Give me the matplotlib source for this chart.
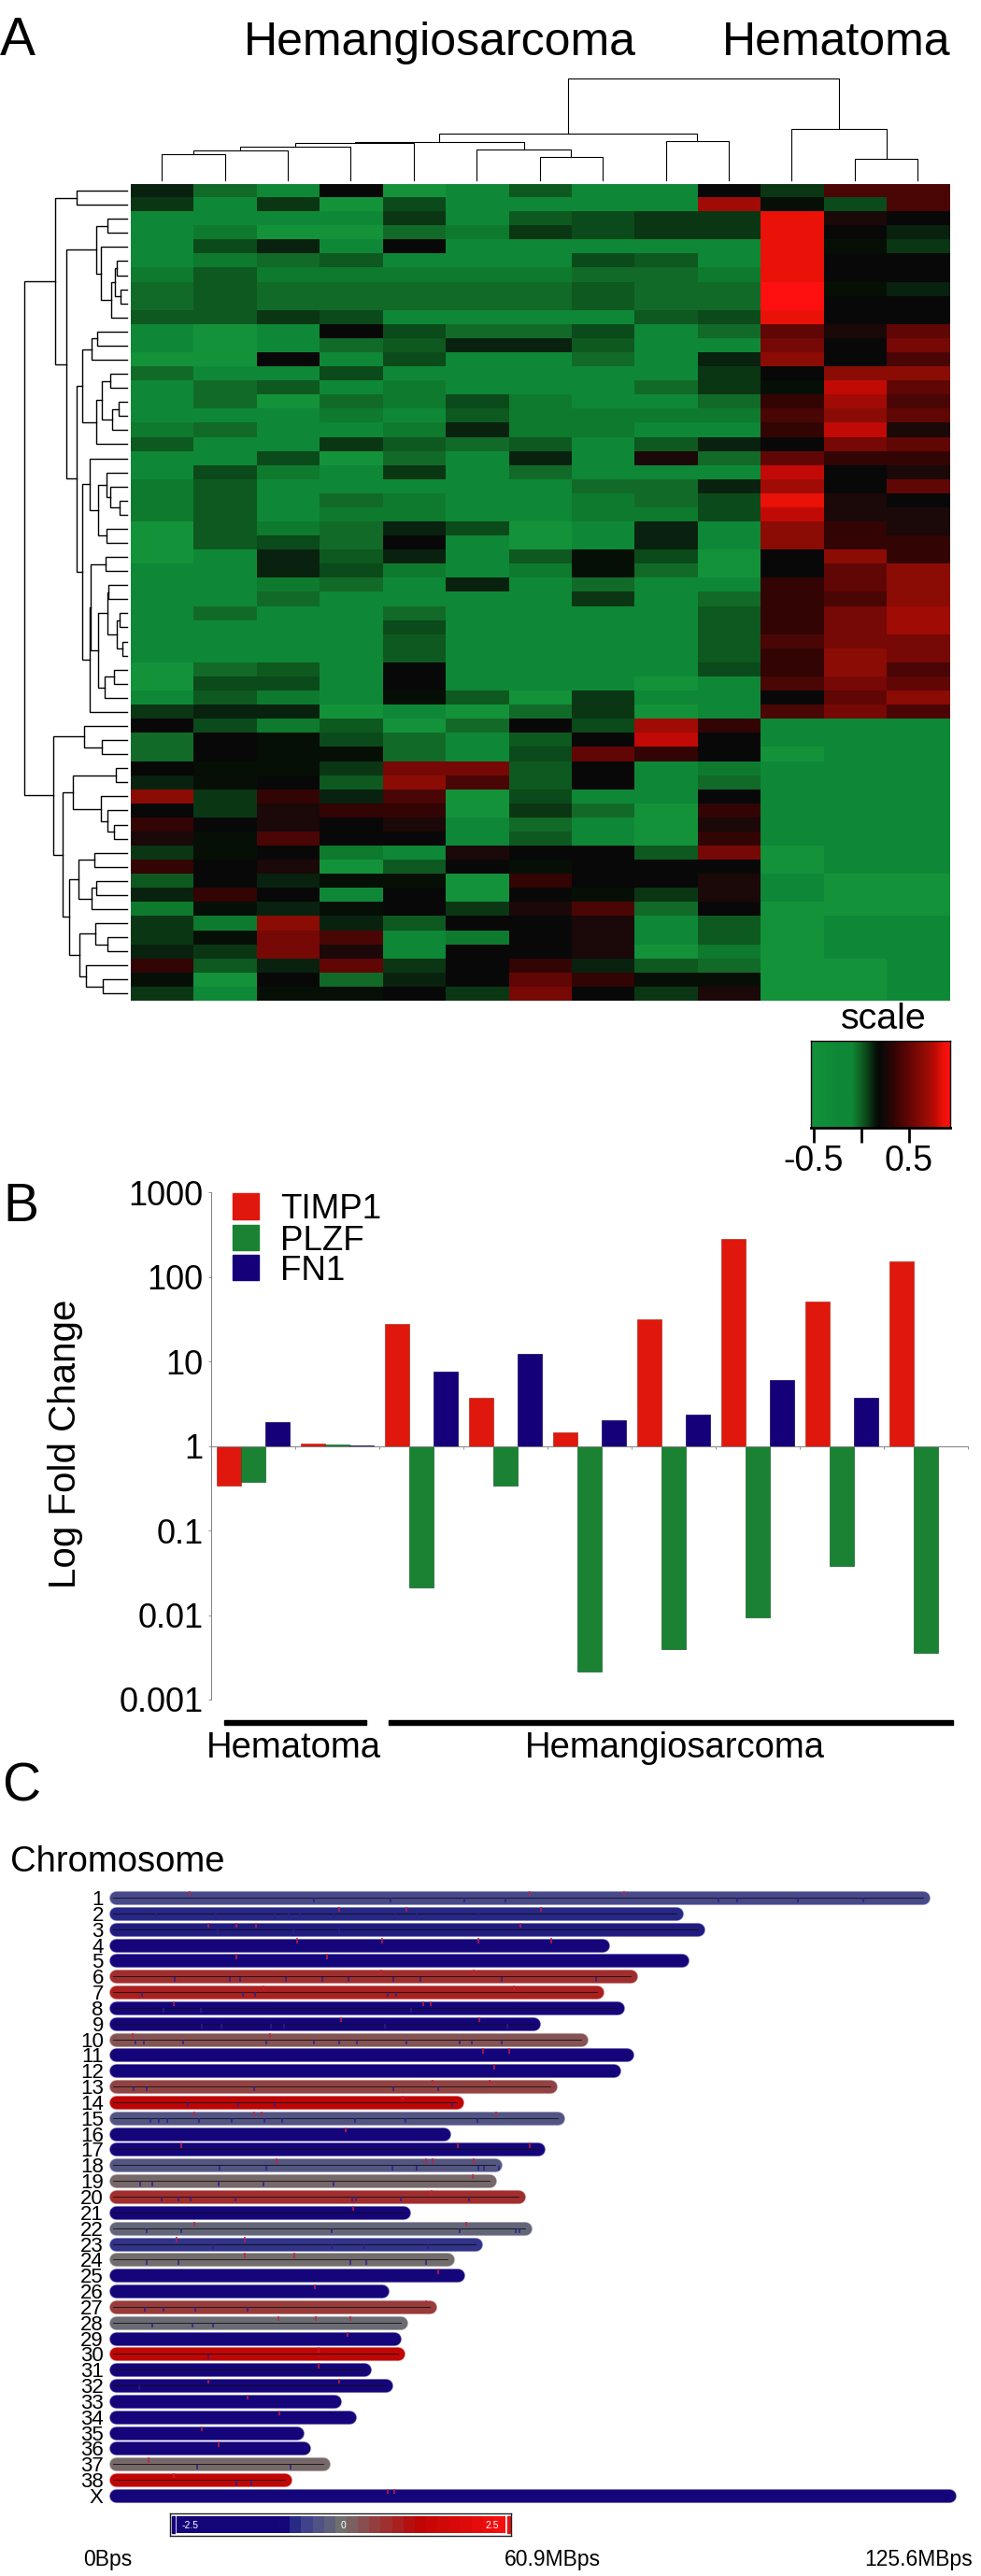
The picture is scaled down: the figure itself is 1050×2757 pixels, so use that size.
import numpy as np
import matplotlib
matplotlib.use("Agg")
import matplotlib.pyplot as plt
from matplotlib.colors import LinearSegmentedColormap
from matplotlib.patches import Rectangle

plt.rcParams['font.family'] = ['Liberation Sans', 'DejaVu Sans']

W, H = 1050, 2757

# ---------- panel A data: expression level per gene (row) and sample (column), -9 green .. 10 red
heat_rows = [
 [-2,-6,-8,0,-9,-8,-5,-8,-8,0,-3,3,3],
 [-3,-8,-3,-9,-4,-8,-8,-8,-8,7,-1,-4,3],
 [-8,-8,-8,-8,-3,-8,-5,-4,-3,-3,9,1,0],
 [-8,-7,-9,-9,-6,-7,-3,-4,-3,-3,9,0,-2],
 [-8,-4,-2,-8,0,-8,-8,-8,-8,-8,9,-1,-3],
 [-8,-7,-6,-5,-8,-8,-8,-4,-5,-8,9,0,0],
 [-7,-5,-7,-7,-7,-7,-7,-6,-6,-7,9,0,0],
 [-6,-5,-6,-6,-6,-6,-6,-5,-6,-6,10,-1,-2],
 [-6,-5,-6,-6,-6,-6,-6,-5,-6,-6,10,0,0],
 [-5,-5,-3,-4,-8,-8,-8,-8,-5,-4,9,0,0],
 [-8,-9,-8,0,-4,-6,-6,-4,-8,-6,4,1,4],
 [-8,-9,-8,-6,-5,-2,-2,-5,-8,-8,5,0,5],
 [-9,-9,0,-8,-4,-8,-8,-6,-8,-2,6,0,3],
 [-6,-8,-8,-4,-8,-8,-8,-8,-8,-3,0,6,6],
 [-8,-6,-5,-8,-7,-8,-8,-8,-6,-3,-1,8,4],
 [-8,-6,-9,-6,-7,-4,-7,-8,-8,-6,2,7,3],
 [-8,-8,-8,-7,-8,-5,-7,-7,-7,-7,3,6,4],
 [-7,-6,-8,-8,-7,-2,-7,-7,-8,-8,2,8,1],
 [-5,-8,-8,-3,-5,-6,-5,-8,-5,-2,0,5,4],
 [-8,-8,-4,-9,-6,-8,-2,-8,1,-6,4,2,2],
 [-8,-4,-7,-8,-3,-8,-6,-8,-8,-8,8,0,1],
 [-7,-5,-8,-8,-8,-8,-8,-6,-6,-2,7,0,4],
 [-7,-5,-8,-6,-7,-8,-8,-7,-6,-4,9,1,0],
 [-7,-5,-8,-7,-7,-8,-8,-7,-7,-4,8,1,1],
 [-9,-5,-7,-6,-2,-4,-9,-8,-2,-8,6,2,1],
 [-9,-5,-4,-6,0,-8,-9,-8,-2,-8,6,2,2],
 [-9,-8,-2,-5,-2,-8,-5,-1,-4,-9,0,6,2],
 [-8,-8,-2,-4,-7,-8,-7,-1,-6,-9,0,4,6],
 [-8,-8,-7,-6,-8,-2,-8,-6,-8,-8,2,4,6],
 [-8,-8,-6,-8,-8,-8,-8,-3,-8,-6,2,3,6],
 [-8,-6,-8,-8,-6,-8,-8,-8,-8,-5,2,5,7],
 [-8,-8,-8,-8,-4,-8,-8,-8,-8,-5,2,5,7],
 [-8,-8,-8,-8,-5,-8,-8,-8,-8,-5,3,5,5],
 [-8,-8,-8,-8,-5,-8,-8,-8,-8,-5,2,6,5],
 [-9,-6,-5,-8,0,-8,-8,-8,-8,-4,2,6,3],
 [-9,-4,-4,-8,0,-8,-8,-8,-9,-8,3,5,4],
 [-8,-5,-7,-8,-1,-5,-9,-3,-8,-8,0,4,6],
 [-3,-2,-2,-9,-8,-9,-6,-3,-9,-8,3,5,3],
 [0,-4,-7,-5,-9,-6,0,-4,7,2,-8,-8,-8],
 [-6,0,-1,-4,-6,-8,-5,0,8,0,-8,-8,-8],
 [-6,0,-1,-1,-6,-8,-4,4,2,0,-9,-8,-8],
 [0,-1,-1,-3,5,5,-5,0,-8,-7,-8,-8,-8],
 [-2,-1,0,-5,6,3,-5,0,-8,-6,-8,-8,-8],
 [6,-3,2,-2,3,-9,-4,-8,-8,0,-8,-8,-8],
 [0,-3,1,2,2,-9,-3,-6,-9,2,-8,-8,-8],
 [2,0,1,0,1,-8,-6,-8,-9,1,-8,-8,-8],
 [1,-1,3,0,0,-8,-5,-8,-9,2,-8,-8,-8],
 [-3,-1,0,-7,-8,1,0,0,-5,5,-9,-8,-8],
 [2,0,1,-9,-5,0,-1,0,0,0,-9,-8,-8],
 [-5,0,-2,-1,-1,-9,2,0,0,1,-8,-9,-9],
 [-2,2,0,-8,0,-9,0,-1,-3,1,-8,-9,-9],
 [-7,-1,-2,-1,0,-3,1,3,-6,0,-9,-9,-9],
 [-3,-7,6,-2,-5,0,0,1,-8,-5,-9,-8,-8],
 [-3,-1,5,3,-8,-7,0,1,-8,-5,-9,-8,-8],
 [-2,-3,5,1,-8,0,0,1,-9,-7,-9,-8,-8],
 [2,-5,-2,4,-3,0,2,-2,-5,-6,-9,-9,-8],
 [-1,-9,0,-6,-2,0,4,2,-1,-1,-9,-9,-8],
 [-3,-8,-1,-1,0,-3,5,0,-3,1,-9,-9,-8],
]

# dendrograms: (merge height, left, right); integers are leaf indices
col_tree = (109, (49.3, (40.8, (39.8, (35.3, (31.8, (27.9, 0, 1), 2), 3), 4),
                         (32.8, 5, (24.4, 6, 7))), (41.8, 8, 9)),
            (54.7, 10, (22.9, 11, 12)))
row_block1 = (32.7, (21, 2, 3), (27.7, 4, (16.7, (13.3, (11.3, 5, 6), (6.7, 7, 8)), 9)))
row_block2 = (48, (38.3, (32, 10, 11), 12),
              (32.7, (27.3, (18, 13, 14), (16.3, (9.3, 15, 16), 17)), 18))
row_block3 = (40, 19, (30.7, (22.3, 20, (18, 21, (8.3, 22, 23))), (22, 24, 25)))
row_block4 = (40, (39, (22.7, 26, 27),
                   (30.7, (21, (20.3, 28, 29), (11.3, (7.7, 30, 31), (4.7, 32, 33))),
                    (24.3, (13.7, 34, 35), 36))), 37)
row_upper = (76.7, (54.3, 0, 1),
             (64.7, row_block1, (54.3, row_block2, (47.7, row_block3, row_block4))))
row_lower = (79, (45.7, 38, (27, 39, 40)),
             (69, (58.3, (11.7, 41, 42), (28.3, 43, (21, 44, (13.7, 45, 46)))),
              (61.7, (51.7, (34.7, 47, 48), (38.3, (33.3, 49, 50), 51)),
               (51, (33.7, 52, (21, 53, 54)), (44.3, 55, (25.7, 56, 57))))))
row_tree = (109.7, row_upper, row_lower)

# ---------- panel B data
fold_timp1 = [0.343, 1.07, 27.4, 3.73, 1.45, 31.1, 280, 51, 152]
fold_plzf = [0.377, 1.05, 0.0214, 0.343, 0.00216, 0.00394, 0.0095, 0.0377, 0.00354]
fold_fn1 = [1.92, 1.02, 7.57, 12.2, 2.03, 2.33, 6.04, 3.73, 1.0]
fold_ticks = [1000, 100, 10, 1, 0.1, 0.01, 0.001]
fold_tick_labels = ['1000', '100', '10', '1', '0.1', '0.01', '0.001']

# ---------- panel C data
chrom_names = [str(i) for i in range(1, 39)] + ['X']
chrom_len = [121.7, 84.5, 87.8, 73.4, 85.4, 77.6, 72.5, 75.7, 62.9, 70.2, 77.1, 75.1, 65.5, 51.4,
             66.6, 49.5, 63.7, 57.2, 56.3, 60.7, 43.4, 61.7, 54.2, 50.0, 51.5, 40.2, 47.3, 43.0,
             42.0, 42.6, 37.5, 40.7, 32.9, 35.2, 27.3, 28.3, 31.3, 25.5, 125.6]
chrom_score = [-0.48, -0.74, -0.8, -1.2, -1.2, 0.73, 0.9, -0.9, -0.9, 0.32, -1.2, -1.2, 0.5, 1.2,
               -0.35, -1.2, -1.05, -0.3, 0.08, 0.76, -0.95, -0.12, -0.65, 0.05, -1.0, -1.2, 0.6,
               -0.05, -1.2, 1.25, -0.95, -0.9, -1.2, -1.2, -1.2, -1.2, 0.08, 1.25, -1.2]
chrom_axis_line = ['1', '2', '3', '6', '7', '8', '9', '10', '13', '14', '15', '17', '18', '19', '20',
                   '21', '22', '23', '24', '27', '28', '30', '31', '32', '37', '38']
red_ticks = {
 '1': [11.1, 62.4, 76.6], '2': [33.6, 43.8, 64.1], '3': [13.9, 18.2, 21.1, 61], '4': [27.3, 40.2, 54.7, 65.6],
 '5': [18.2, 31.8], '6': [54, 40], '7': [22.3, 60], '8': [8.8, 46.3, 47.5], '9': [33.9, 54.8],
 '10': [2.6, 23.3], '11': [55.4, 59.3], '12': [57], '13': [47.7, 56.4], '14': [43.2],
 '15': [11.9, 20.9, 22, 57.3], '16': [34.6], '17': [9.9, 51.5, 62.4], '18': [24.2, 46.7, 47.7, 53.9],
 '19': [53.8], '20': [47.6], '21': [35.8], '22': [11.8, 52.8], '23': [9.2, 19.5],
 '24': [19.5, 26.9], '25': [48.6], '26': [30], '27': [46.7], '28': [24.5, 30.2, 35.3],
 '29': [34.9], '30': [30.6], '31': [30.6], '32': [14, 33.6], '33': [19.8], '34': [24.7],
 '35': [12.9], '36': [15.5], '37': [4.9], '38': [8.8], 'X': [41, 42],
}
blue_ticks = {
 '1': [29.8, 41.4, 52.5, 58.7, 90.8, 93.6, 102.8, 112.7], '2': [6.1, 15.1, 23.9, 26.1, 27.7, 32.8, 42.1, 45.4, 54.7],
 '3': [15.4, 26.8, 33.7], '6': [8.9, 17.2, 18.7, 25.7, 31.1, 35, 41.8, 45.9, 58.2, 72.4],
 '7': [3.9, 19.2, 21, 41, 42.2], '8': [7.2, 12.8, 44.5], '9': [13, 15.9, 23.4, 25.3, 40.5, 59],
 '10': [3, 4.2, 10.2, 22.7, 29.8, 33.7, 36.3, 43.8, 51.9, 53.7, 58.2],
 '13': [2.7, 4.7, 20.9, 41.8, 48.6], '14': [10.8, 18.4, 24, 50.7],
 '15': [5.2, 6.5, 7.7, 12.6, 17.5, 22.4, 25, 36.1, 43.7, 54.5],
 '18': [15.7, 22.7, 41.7, 45.3, 54.6, 55.5, 57.7], '19': [3.7, 5.5, 15.5, 22.2, 32.8],
 '20': [6.9, 9.4, 11.2, 18, 35.6, 36.2, 43, 53.2], '22': [4.6, 9.9, 32.5, 51.9, 60.3, 60.9],
 '23': [14.6, 32.5, 37.4, 47.1], '24': [4.7, 9.4, 35.3, 37.7, 46.7],
 '27': [4.4, 7.2, 12, 19.8], '28': [5.5, 11.5, 14.6], '30': [14], '32': [3.5],
 '37': [12.3, 26.4], '38': [18.2, 20.4],
}
score_scale = np.linspace(-2.5, 2.5, 29)


def pxax(x0, y0, x1, y1, **kw):
    return fig.add_axes([x0 / W, 1 - y1 / H, (x1 - x0) / W, (y1 - y0) / H], **kw)


def pxtext(x, y, s, size, ha='left', va='baseline', **kw):
    fig.text(x / W, 1 - y / H, s, fontsize=size, ha=ha, va=va, **kw)


fig = plt.figure(figsize=(W / 100, H / 100), dpi=100, facecolor='white')

# ---------- A: heat map
heat_colors = ['#16953B', '#13923A', '#0E8836', '#0E7A2E', '#126A28', '#0E5A20', '#0B4A1A', '#0A3614',
               '#08220F', '#061006', '#080808', '#1C0808', '#330404', '#4A0505', '#600605', '#750805',
               '#8A0C05', '#A00C05', '#C00A05', '#E81208', '#FF1010']
heat_cmap = LinearSegmentedColormap.from_list('heat', heat_colors, N=256)
hx0, hy0, hx1, hy1 = 139.5, 196.5, 1016, 1071
ax = pxax(hx0, hy0, hx1, hy1)
ax.imshow(np.array(heat_rows), cmap=heat_cmap, vmin=-10, vmax=10, aspect='auto', interpolation='nearest')
ax.axis('off')


def tree_segments(node):
    """Return (position, height, segments) of a nested merge tuple."""
    if isinstance(node, int):
        return node, 0, []
    h, a, b = node
    pa, ha, sa = tree_segments(a)
    pb, hb, sb = tree_segments(b)
    seg = sa + sb + [([ha, h, h, hb], [pa, pa, pb, pb])]
    return (pa + pb) / 2, h, seg


# row dendrogram
ax = pxax(26.3, hy0, 136, hy1)
for hs, ps in tree_segments(row_tree)[2]:
    ax.plot(hs, ps, color='black', lw=1.0, solid_joinstyle='miter', clip_on=False)
ax.set_xlim(109.7, 0)
ax.set_ylim(len(heat_rows) - 0.5, -0.5)
ax.axis('off')

# column dendrogram
ax = pxax(hx0, 83.6, hx1, 192.5)
for hs, ps in tree_segments(col_tree)[2]:
    ax.plot(ps, hs, color='black', lw=0.8, solid_joinstyle='miter', clip_on=False)
ax.set_xlim(-0.5, 12.5)
ax.set_ylim(0, 109)
ax.axis('off')

pxtext(0, 59, 'A', 41)
pxtext(261, 59, 'Hemangiosarcoma', 36)
pxtext(773, 59, 'Hematoma', 36)

# colour key
ax = pxax(868.3, 1114, 1016.7, 1206.7)
key_scale = np.linspace(-0.523, 0.931, 200)
key_level = np.interp(key_scale, [-0.523, -0.25, -0.1, 0.2, 0.931], [-9, -8, -8, 0, 10])
ax.imshow(key_level[None, :], cmap=heat_cmap, vmin=-10, vmax=10, aspect='auto',
          extent=(-0.523, 0.931, 0, 1), interpolation='bilinear')
ax.set_yticks([])
ax.set_xticks([-0.5, 0, 0.5], ['-0.5', '', '0.5'], fontsize=27)
ax.tick_params(axis='x', length=11.5, width=2, pad=2)
for s in ax.spines.values():
    s.set_linewidth(1.0)
ax.spines['bottom'].set_linewidth(2)
pxtext(946, 1100.7, 'scale', 28.4, ha='center')

# ---------- B: bars
ax = pxax(226.4, 1276, 1036, 1819)
ax.set_yscale('log')
ax.set_xlim(0, 9)
ax.set_ylim(0.001, 1000)
groups = np.arange(9)
series = [(fold_timp1, 0.21, '#E0170C', '#B0301F'), (fold_plzf, 0.497, '#1A8232', '#14602A'),
          (fold_fn1, 0.784, '#15007A', '#100060')]
for vals, off, col, edge in series:
    vals = np.array(vals)
    ax.bar(groups + off, vals - 1, bottom=1, width=0.287, color=col, edgecolor=edge, linewidth=0.5)
for s in ('top', 'right'):
    ax.spines[s].set_visible(False)
ax.spines['bottom'].set_position(('data', 1))
ax.spines['bottom'].set_color('#808080')
ax.spines['left'].set_color('#808080')
ax.spines['bottom'].set_linewidth(0.7)
ax.spines['left'].set_linewidth(0.7)
ax.set_xticks(np.arange(0, 10))
ax.set_xticklabels([])
ax.tick_params(axis='x', length=2.5, width=0.6, color='#808080')
ax.set_yticks(fold_ticks, fold_tick_labels, fontsize=26)
ax.minorticks_off()
ax.tick_params(axis='y', length=2.5, width=0.6, color='#808080', pad=4)

pxtext(3, 1307, 'B', 41)
pxtext(70, 1545, 'Log Fold Change', 29, ha='center', va='center', rotation=90)
legend_items = [('TIMP1', '#E0170C', 1277), ('PLZF', '#1A8232', 1310.5), ('FN1', '#15007A', 1343)]
for name, col, top in legend_items:
    fig.add_artist(Rectangle((249 / W, 1 - (top + 27.5) / H), 28 / W, 27.5 / H, color=col,
                             transform=fig.transFigure))
    pxtext(300, top + 27, name, 26.5)

for x0, x1, lab, xc in [(240, 392, 'Hematoma', 314), (416, 1020, 'Hemangiosarcoma', 722)]:
    fig.add_artist(Rectangle((x0 / W, 1 - 1845.5 / H), (x1 - x0) / W, 5 / H, color='black',
                             transform=fig.transFigure))
    pxtext(xc, 1881, lab, 27.5, ha='center')

# ---------- C: chromosomes
pxtext(2, 1928, 'C', 41)
pxtext(11, 2003, 'Chromosome', 27.5)
score_cmap = LinearSegmentedColormap.from_list(
    'score', [(0, '#15057A'), (0.32, '#15057A'), (0.36, '#2B2E88'), (0.40, '#46488C'),
              (0.46, '#5C5E7C'), (0.5, '#707070'), (0.74, '#BE0505'), (1, '#F50F0F')])
to_unit = lambda v: (np.asarray(v) + 2.5) / 5

row_px = 16.85
ax = pxax(124, 2031 - row_px / 2, 1050, 2671 + row_px / 2)
ax.set_xlim(0, (1050 - 124) / 7.1)
ax.set_ylim(len(chrom_names) - 0.5, -0.5)
for s in ax.spines.values():
    s.set_visible(False)
ax.set_xticks([])
ax.set_yticks(range(len(chrom_names)), chrom_names, fontsize=16)
ax.tick_params(axis='y', length=0, pad=9.5)
for i, name in enumerate(chrom_names):
    col = np.array(score_cmap(to_unit(chrom_score[i])))
    lighter = col * 0.6 + 0.4
    lighter[3] = 1
    ax.plot([0, chrom_len[i]], [i, i], color=lighter, lw=10.6, solid_capstyle='round', clip_on=False)
    ax.plot([0, chrom_len[i]], [i, i], color=col, lw=9.6, solid_capstyle='round', clip_on=False)
    if name in chrom_axis_line:
        ax.plot([-0.4, chrom_len[i]], [i, i], color='#101010', lw=0.6, clip_on=False)
    for t in red_ticks.get(name, []):
        ax.vlines(t, i - 0.42, i - 0.1, color='#C8203A', lw=1.1)
    for t in blue_ticks.get(name, []):
        ax.vlines(t, i + 0.02, i + 0.32, color='#2A1F90', lw=1.1)

# score key
ax = pxax(182, 2690, 546.5, 2714)
ax.set_xlim(0, 364.5)
ax.set_ylim(0, 1)
ax.set_xticks([])
ax.set_yticks([])
for s in ax.spines.values():
    s.set_linewidth(1.0)
    s.set_color('#202020')
ax.add_patch(Rectangle((2, 0.12), 2.5, 0.76, color='#15057A'))
ax.add_patch(Rectangle((361, 0.12), 2.5, 0.76, color='#E81010'))
ax = pxax(189, 2693, 541, 2711)
ax.imshow(to_unit(score_scale)[None, :], cmap=score_cmap, vmin=0, vmax=1, aspect='auto',
          interpolation='nearest', extent=(-2.5, 2.5, 0, 1))
ax.axis('off')
for v, lab in [(-2.3, '-2.5'), (0.03, '0'), (2.3, '2.5')]:
    ax.text(v, 0.45, lab, color='white', fontsize=7.5, ha='center', va='center')

pxtext(115, 2746, '0Bps', 16.5, ha='center')
pxtext(591, 2746, '60.9MBps', 16.5, ha='center')
pxtext(983, 2746, '125.6MBps', 16.5, ha='center')

fig.savefig('out.png', dpi=100)
